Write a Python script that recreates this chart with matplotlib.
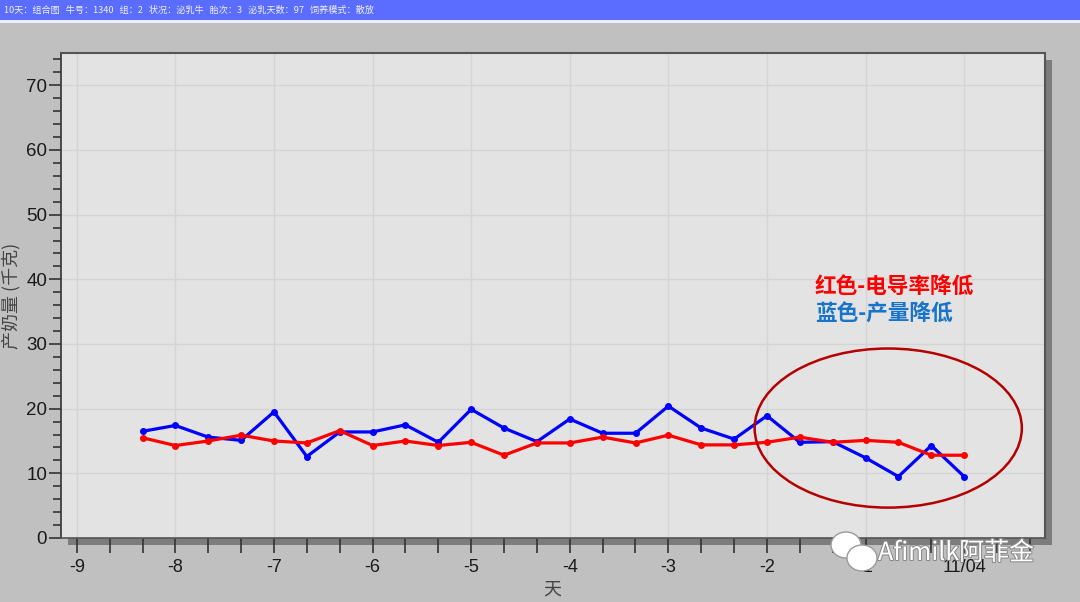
import matplotlib
matplotlib.use("Agg")
import matplotlib.pyplot as plt
from matplotlib.patches import Rectangle, Ellipse
from matplotlib.ticker import MultipleLocator, FixedLocator, FixedFormatter
import matplotlib.patheffects as pe

plt.rcParams['font.family'] = ['Liberation Sans', 'Noto Sans CJK SC', 'DejaVu Sans']

# ---- data ----
days = [-8.333, -8.0, -7.667, -7.333, -7.0, -6.667, -6.333, -6.0, -5.667,
        -5.333, -5.0, -4.667, -4.333, -4.0, -3.667, -3.333, -3.0, -2.667,
        -2.333, -2.0, -1.667, -1.333, -1.0, -0.667, -0.333, 0.0]
milk_blue = [16.5, 17.4, 15.6, 15.1, 19.5, 12.6, 16.4, 16.4, 17.5, 14.8,
             19.9, 17.0, 14.9, 18.4, 16.2, 16.2, 20.4, 17.0, 15.3, 18.9,
             14.8, 14.9, 12.4, 9.5, 14.3, 9.5]
cond_red = [15.5, 14.3, 15.0, 15.9, 15.0, 14.7, 16.6, 14.3, 15.0, 14.3,
            14.8, 12.8, 14.7, 14.7, 15.6, 14.7, 15.9, 14.4, 14.4, 14.8,
            15.6, 14.8, 15.1, 14.8, 12.8, 12.8]
xtick_pos = [-9, -8, -7, -6, -5, -4, -3, -2, -1, 0]
xtick_labels = ['-9', '-8', '-7', '-6', '-5', '-4', '-3', '-2', '-1', '11/04']
title_text = "10天：组合图   牛号：1340   组：2   状况：泌乳牛   胎次：3   泌乳天数：97   饲养模式：散放"
legend_red = "红色-电导率降低"
legend_blue = "蓝色-产量降低"
ylabel = "产奶量 (千克)"
xlabel = "天"

W, H = 1080, 602
fig = plt.figure(figsize=(W / 100, H / 100), dpi=100, facecolor='#c0c0c0')

# title bar
fig.patches.append(Rectangle((0, 1 - 20 / H), 1, 20 / H, transform=fig.transFigure,
                             facecolor='#5b6dff', edgecolor='none', zorder=0))
fig.patches.append(Rectangle((0, 1 - 23 / H), 1, 3 / H, transform=fig.transFigure,
                             facecolor='#eceeff', edgecolor='none', zorder=0))
fig.text(4 / W, 1 - 10 / H, title_text, color='#eef0ff', fontsize=6.6,
         va='center', ha='left', family=['Noto Sans CJK SC', 'DejaVu Sans'])

# axes placement
L, R, T, B = 61, 1045, 53, 538
ax = fig.add_axes([L / W, 1 - B / H, (R - L) / W, (B - T) / H])
ax.set_zorder(2)
# shadow
fig.patches.append(Rectangle(((L + 7) / W, 1 - (B + 7) / H), (R - L) / W, (B - T) / H,
                             transform=fig.transFigure, facecolor='#7c7c7c',
                             edgecolor='none', zorder=0.5))

ax.set_facecolor('#e3e3e3')
ax.set_xlim(-9.16, 0.82)
ax.set_ylim(0, 75)

for s in ['top', 'right']:
    ax.spines[s].set_color('#555555')
    ax.spines[s].set_linewidth(1.5)
ax.spines['left'].set_color('#333333')
ax.spines['left'].set_linewidth(1.2)
ax.spines['bottom'].set_color('#555555')
ax.spines['bottom'].set_linewidth(1.2)

ax.yaxis.set_major_locator(MultipleLocator(10))
ax.yaxis.set_minor_locator(MultipleLocator(2))
ax.xaxis.set_major_locator(FixedLocator(xtick_pos))
ax.xaxis.set_major_formatter(FixedFormatter(xtick_labels))
ax.xaxis.set_minor_locator(MultipleLocator(1 / 3))

ax.tick_params(axis='y', which='major', direction='out', length=9, width=1.2,
               color='#333333', labelsize=13.5, labelcolor='#1a1a1a', pad=1)
ax.tick_params(axis='y', which='minor', direction='out', length=6, width=1.2, color='#333333')
ax.tick_params(axis='x', which='major', direction='out', length=11, width=1.2,
               color='#333333', labelsize=13, labelcolor='#1a1a1a', pad=4)
ax.tick_params(axis='x', which='minor', direction='out', length=11, width=1.2, color='#333333')

ax.grid(True, which='major', color='#d4d4d4', linewidth=1)
ax.set_axisbelow(True)

ax.plot(days, milk_blue, color='#0000ff', lw=2.3, marker='o', ms=4, zorder=3)
ax.plot(days, cond_red, color='#ff0000', lw=2.3, marker='o', ms=4, zorder=4)

ax.add_patch(Ellipse((-0.77, 17.0), 2.71, 24.6, facecolor='none',
                     edgecolor='#b40000', lw=1.8, zorder=5))

ax.text(-1.513, 38.8, legend_red, color='#ff0000', fontsize=15.6, fontweight='bold',
        ha='left', va='center', family=['Noto Sans CJK SC', 'DejaVu Sans'])
ax.text(-1.513, 34.6, legend_blue, color='#1874c8', fontsize=15.6, fontweight='bold',
        ha='left', va='center', family=['Noto Sans CJK SC', 'DejaVu Sans'])

fig.text(11 / W, 1 - 296 / H, ylabel, rotation=90, fontsize=13, color='#444444',
         ha='center', va='center', family=['Noto Sans CJK SC', 'DejaVu Sans'])
fig.text(552 / W, 1 - 590 / H, xlabel, fontsize=13, color='#444444',
         ha='center', va='center', family=['Noto Sans CJK SC', 'DejaVu Sans'])

# watermark
for (cx, cy, w, h) in [(846, 545, 30, 26), (862, 558, 30, 26)]:
    fig.patches.append(Ellipse((cx / W, 1 - cy / H), w / W, h / H, transform=fig.transFigure,
                               facecolor='white', edgecolor='#9a9a9a', lw=1.0, zorder=10))
fig.text(878 / W, 1 - 553 / H, "Afimilk阿菲金", color='white', fontsize=18,
         ha='left', va='center', family=['Noto Sans CJK SC', 'DejaVu Sans'], zorder=11,
         path_effects=[pe.withStroke(linewidth=1.5, foreground='#8a8a8a')])

fig.savefig('out.png', dpi=100, facecolor=fig.get_facecolor())
